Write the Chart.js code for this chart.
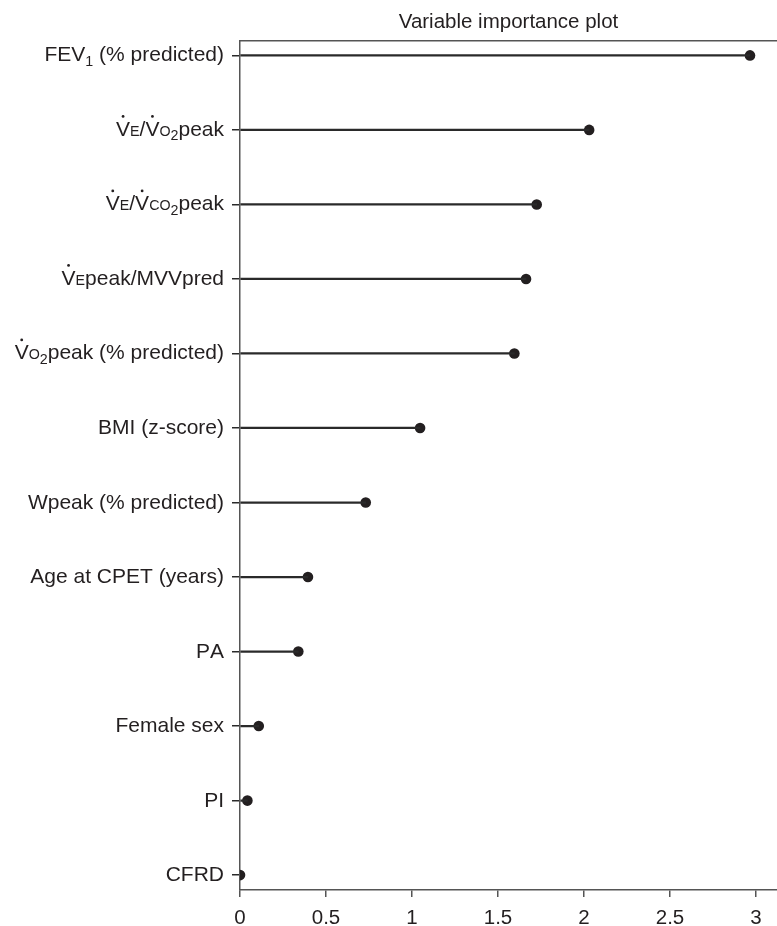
<!DOCTYPE html>
<html>
<head>
<meta charset="utf-8">
<script src="https://cdn.jsdelivr.net/npm/chart.js@4/dist/chart.umd.min.js"></script>
<style>
  html, body { margin: 0; padding: 0; background: #fff; }
  canvas { display: block; }
</style>
</head>
<body>
<canvas id="vip" width="777" height="926"></canvas>
<script>
/* ═══ variable importance plot ═══ */
// ᴇ ᴏ ᴄ = small caps, ₁ ₂ = subscripts, \u0307 = dot over the V
var labels = [
  'FEV₁ (% predicted)',
  'V\u0307ᴇ/V\u0307ᴏ₂peak',
  'V\u0307ᴇ/V\u0307ᴄᴏ₂peak',
  'V\u0307ᴇpeak/MVVpred',
  'V\u0307ᴏ₂peak (% predicted)',
  'BMI (z-score)',
  'Wpeak (% predicted)',
  'Age at CPET (years)',
  'PA',
  'Female sex',
  'PI',
  'CFRD'
];
var importance = [2.965, 2.03, 1.725, 1.663, 1.595, 1.047, 0.731, 0.395, 0.339, 0.109, 0.043, 0];
var xTicks = [0, 0.5, 1, 1.5, 2, 2.5, 3];
var xMax = 3.122;

var FONT = '"Liberation Sans", Arial, Helvetica, sans-serif';
var TEXT = '#231f20';
var AXIS = '#555555';
var STEM = '#2a2a2a';
var SIZE = 21;

var points = labels.map(function(_, i) { return { x: importance[i], y: i }; });

var SMALL = { 'ᴇ': 'E', 'ᴏ': 'O', 'ᴄ': 'C' };
var SUB   = { '₁': '1', '₂': '2' };

function splitRuns(str) {
  var runs = [];
  Array.from(str).forEach(function(ch) {
    if (ch === '\u0307') { if (runs.length) runs[runs.length - 1].dot = true; return; }
    if (SMALL[ch]) runs.push({ ch: SMALL[ch], scale: 0.68, dy: 0 });
    else if (SUB[ch]) runs.push({ ch: SUB[ch], scale: 0.68, dy: 4.5 });
    else runs.push({ ch: ch, scale: 1, dy: 0 });
  });
  return runs;
}

/* ── y labels with dots / small caps / subscripts ── */
var richLabels = {
  id: 'richLabels',
  afterDraw: function(chart) {
    var c = chart.ctx, ys = chart.scales.y;
    var right = chart.chartArea.left - 16;
    c.save();
    c.fillStyle = TEXT;
    c.textBaseline = 'alphabetic';
    c.textAlign = 'left';
    labels.forEach(function(lab, i) {
      var runs = splitRuns(lab), w = 0;
      runs.forEach(function(r) {
        c.font = (SIZE * r.scale) + 'px ' + FONT;
        r.w = c.measureText(r.ch).width;
        w += r.w;
      });
      var x = right - w, base = ys.getPixelForValue(i) + 6;
      runs.forEach(function(r) {
        c.font = (SIZE * r.scale) + 'px ' + FONT;
        c.fillText(r.ch, x, base + r.dy);
        if (r.dot) {
          c.beginPath();
          c.arc(x + r.w / 2, base - SIZE * 0.716 - 4.5, 1.4, 0, Math.PI * 2);
          c.fill();
        }
        x += r.w;
      });
    });
    c.restore();
  }
};

new Chart(document.getElementById('vip'), {
  data: {
    datasets: [
      { type: 'bar', indexAxis: 'y', data: points, backgroundColor: STEM, borderWidth: 0,
        barThickness: 1.6, xAxisID: 'x', yAxisID: 'y' },
      { type: 'scatter', data: points, pointRadius: 5.3, pointHoverRadius: 5.3,
        backgroundColor: TEXT, borderWidth: 0, xAxisID: 'x', yAxisID: 'y' }
    ]
  },
  plugins: [richLabels],
  options: {
    responsive: false, animation: false,
    layout: { padding: 0, autoPadding: false },
    plugins: { legend: { display: false }, tooltip: { enabled: false } },
    scales: {
      x: {
        type: 'linear', position: 'bottom', min: 0, max: xMax, offset: false,
        afterBuildTicks: function(s) { s.ticks = xTicks.map(function(v) { return { value: v }; }); },
        afterFit: function(s) { s.height = 36; },
        border: { color: AXIS, width: 1.5 },
        grid: { drawOnChartArea: false, offset: false, tickLength: 7, color: AXIS, lineWidth: 1.5 },
        ticks: { font: { family: FONT, size: 20.5 }, color: TEXT, padding: 9, maxRotation: 0, autoSkip: false,
                 callback: function(v) { return String(v); } }
      },
      x2: {
        type: 'linear', position: 'top', min: 0, max: xMax,
        afterFit: function(s) { s.height = 40.5; },
        border: { color: AXIS, width: 1.5 },
        grid: { drawOnChartArea: false, drawTicks: false },
        ticks: { display: false },
        title: { display: true, text: 'Variable importance plot', color: TEXT,
                 font: { family: FONT, size: 20.5 }, padding: { top: 10, bottom: 4 } }
      },
      y: {
        type: 'linear', min: -0.2, max: 11.2, reverse: true, offset: false,
        afterBuildTicks: function(s) { s.ticks = labels.map(function(_, i) { return { value: i }; }); },
        afterFit: function(s) { s.width = 240; },
        border: { color: AXIS, width: 1.5 },
        grid: { drawOnChartArea: false, offset: false, tickLength: 8, color: STEM, lineWidth: 1.5 },
        ticks: { display: false }
      }
    }
  }
});
</script>
</body>
</html>
